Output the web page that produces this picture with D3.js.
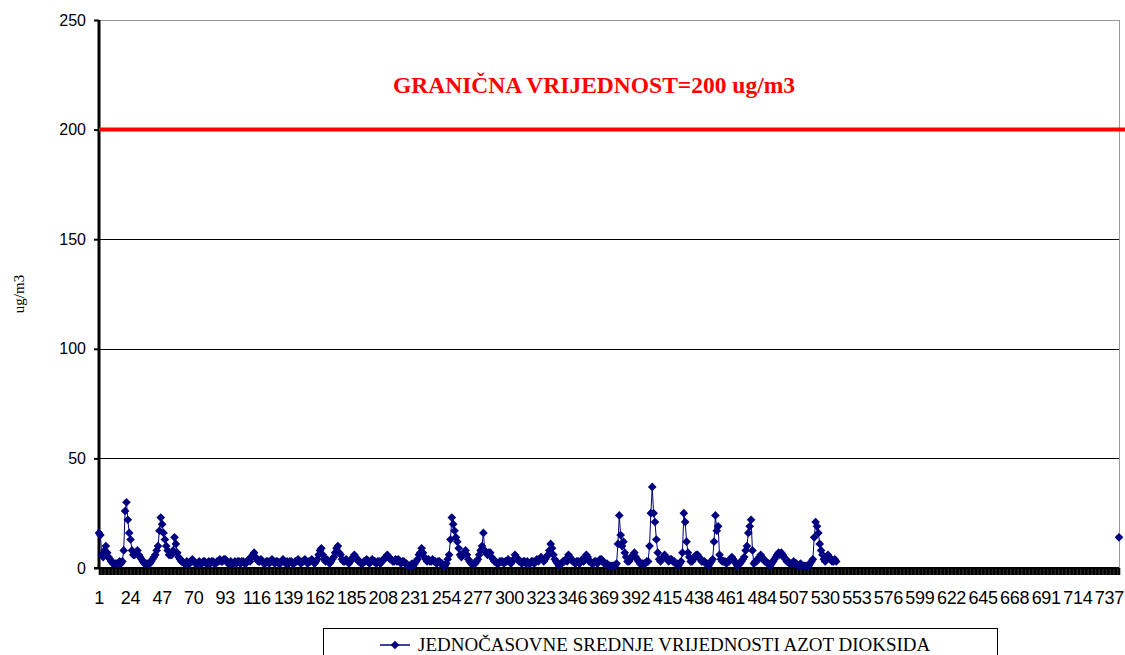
<!DOCTYPE html>
<html>
<head>
<meta charset="utf-8">
<script src="https://cdn.jsdelivr.net/npm/d3@7"></script>
<style>
  body { margin: 0; background: #fff; }
  svg { display: block; }
</style>
</head>
<body>
<div id="chart"></div>
<script>
// satne vrijednosti NO2 (ug/m3), po danima (24 sata)
const day01 = [16,15,6,5,8,10,7,5,4,3,2,2,2,2,2,3,2,3,8,26,30,22,16,13];
const day02 = [8,6,6,7,8,6,5,4,3,2,2,2,2,2,3,4,5,6,8,10,17,23,20,16];
const day03 = [13,10,8,6,6,6,8,14,11,7,5,4,3,3,2,2,3,2,2,3,4,3,2,2];
const day04 = [2,3,2,2,3,3,2,2,3,2,3,3,2,2,3,3,4,3,3,4,4,3,2,2];
const day05 = [3,2,2,3,2,3,3,2,3,3,2,2,3,4,3,5,6,7,5,4,3,3,4,3];
const day06 = [2,2,3,3,2,3,4,3,2,3,3,2,2,3,4,3,2,3,2,3,3,2,2,3];
const day07 = [3,4,3,2,3,3,4,3,2,3,3,4,3,2,3,4,6,8,9,6,4,3,4,3];
const day08 = [2,3,4,5,7,9,10,7,6,4,3,3,4,3,2,3,4,5,6,5,4,3,3,2];
const day09 = [2,3,3,4,3,2,3,4,3,3,2,3,3,2,3,4,4,5,6,5,4,4,3,3];
const day10 = [4,3,4,3,2,3,3,2,2,1,1,1,2,1,2,3,4,6,7,9,7,5,4,3];
const day11 = [4,3,3,4,3,3,2,3,3,2,2,1,1,2,4,6,13,23,20,17,14,12,9,6];
const day12 = [5,6,7,8,6,4,3,2,2,2,2,3,4,6,8,10,16,8,7,6,7,7,5,4];
const day13 = [3,3,2,2,3,3,3,2,3,3,4,3,2,3,4,6,5,4,3,3,2,3,3,2];
const day14 = [3,2,2,3,3,2,3,4,3,4,5,4,3,4,5,6,8,11,9,6,4,3,2,1];
const day15 = [2,2,3,3,4,3,6,5,4,3,3,2,3,3,2,3,4,3,4,6,5,3,3,2];
const day16 = [2,3,3,2,3,4,4,3,2,2,2,1,1,1,1,1,1,2,11,24,15,10,12,7];
const day17 = [5,3,3,4,5,6,7,5,4,3,2,2,2,2,2,3,3,10,25,37,25,21,13,7];
const day18 = [4,3,4,5,6,5,4,3,4,4,3,3,2,2,1,2,3,7,25,21,12,7,5,3];
const day19 = [3,4,5,6,6,5,4,3,3,3,2,2,1,2,3,4,12,24,17,19,6,4,3,3];
const day20 = [3,2,3,3,4,5,4,3,2,1,2,2,3,4,5,8,10,16,19,22,8,2,3,3];
const day21 = [4,5,6,5,4,3,3,2,2,1,2,3,4,5,6,7,6,7,6,5,4,3,3,2];
const day22 = [2,2,3,2,2,1,1,2,1,1,1,1,1,1,2,3,4,14,21,19,16,11,8,6];
const day23 = [4,3,4,6,5,4,3,3,4,3];

// zadnje mjerenje na kraju mjeseca
const lastHour = 744;
const lastHourValue = 14;

const hourCount = 744;
const xTickLabels = [1,24,47,70,93,116,139,162,185,208,231,254,277,300,323,346,369,392,415,438,461,484,507,530,553,576,599,622,645,668,691,714,737];
const yTicks = [0, 50, 100, 150, 200, 250];
const limitValue = 200;
const limitTitle = "GRANIČNA VRIJEDNOST=200 ug/m3";
const seriesName = "JEDNOČASOVNE SREDNJE VRIJEDNOSTI AZOT DIOKSIDA";
const yTitle = "ug/m3";

const measured = [].concat(day01, day02, day03, day04, day05, day06, day07, day08,
    day09, day10, day11, day12, day13, day14, day15, day16, day17, day18, day19,
    day20, day21, day22, day23);

const hours = d3.range(1, hourCount + 1);
const series = hours.map(h => {
    let v = h <= measured.length ? measured[h - 1] : null;
    if (h === lastHour) v = lastHourValue;
    return { h: h, v: v };
});

const dimension = { width: 1125, height: 655 };
const plot = { left: 99, right: 1119, top: 20, bottom: 568 };
const navy = "#000080";

const svg = d3.select("#chart").append("svg")
    .attr("width", dimension.width)
    .attr("height", dimension.height);

const x = d3.scalePoint().domain(hours).range([plot.left, plot.right]);
const y = d3.scaleLinear().domain([0, 250]).range([plot.bottom, plot.top]);

// mreza
svg.append("g")
    .selectAll("line")
    .data(yTicks.filter(t => t > 0 && t !== limitValue))
    .enter().append("line")
    .attr("x1", plot.left).attr("x2", plot.right)
    .attr("y1", d => Math.round(y(d)) + 0.5).attr("y2", d => Math.round(y(d)) + 0.5)
    .attr("stroke", d => d === 250 ? "#9a9a9a" : "#000")
    .attr("stroke-width", 1);

// desni okvir
svg.append("line")
    .attr("x1", plot.right + 0.5).attr("x2", plot.right + 0.5)
    .attr("y1", plot.top).attr("y2", plot.bottom)
    .attr("stroke", "#9a9a9a");

// x osa: gusti podioci za svaki sat
svg.append("g")
    .attr("transform", `translate(0, ${plot.bottom})`)
    .call(d3.axisBottom(x).tickValues(hours).tickSize(7).tickFormat(""))
    .call(g => g.select(".domain").remove())
    .call(g => g.selectAll(".tick line").attr("stroke", "#000").attr("stroke-width", 1.6));

svg.append("line")
    .attr("x1", plot.left - 5).attr("x2", plot.right)
    .attr("y1", plot.bottom).attr("y2", plot.bottom)
    .attr("stroke", "#000").attr("stroke-width", 2);

svg.append("g")
    .selectAll("text")
    .data(xTickLabels)
    .enter().append("text")
    .attr("x", d => x(d))
    .attr("y", 604)
    .attr("text-anchor", "middle")
    .style("font", "18px 'Liberation Sans', Arial, sans-serif")
    .style("letter-spacing", "-0.3px")
    .attr("fill", "#000")
    .text(d => d);

// y osa
svg.append("g")
    .attr("transform", `translate(${plot.left}, 0)`)
    .call(d3.axisLeft(y).tickValues(yTicks).tickSize(5).tickPadding(8))
    .call(g => g.select(".domain").attr("stroke", "#000").attr("stroke-width", 3)
        .attr("d", `M0,${plot.top}V${plot.bottom}`))
    .call(g => g.selectAll(".tick line").attr("stroke", "#000").attr("stroke-width", 2))
    .call(g => g.selectAll(".tick text")
        .style("font", "16px 'Liberation Sans', Arial, sans-serif")
        .attr("fill", "#000"));

svg.append("text")
    .attr("transform", `translate(24, ${(plot.top + plot.bottom) / 2}) rotate(-90)`)
    .attr("text-anchor", "middle")
    .style("font", "15px 'Liberation Serif', 'Times New Roman', serif")
    .text(yTitle);

// granicna vrijednost
svg.append("line")
    .attr("x1", plot.left).attr("x2", dimension.width)
    .attr("y1", y(limitValue)).attr("y2", y(limitValue))
    .attr("stroke", "#ff0000").attr("stroke-width", 4);

svg.append("text")
    .attr("x", 594)
    .attr("y", 93)
    .attr("text-anchor", "middle")
    .attr("fill", "#ff0000")
    .style("font", "bold 23.5px 'Liberation Serif', 'Times New Roman', serif")
    .text(limitTitle);

// serija
const line = d3.line()
    .defined(d => d.v != null)
    .x(d => x(d.h))
    .y(d => y(d.v));

svg.append("path")
    .datum(series)
    .attr("fill", "none")
    .attr("stroke", navy)
    .attr("stroke-width", 1)
    .attr("d", line);

const diamond = d3.symbol().type(d3.symbolDiamond2).size(48);

svg.append("g")
    .selectAll("path")
    .data(series.filter(d => d.v != null))
    .enter().append("path")
    .attr("transform", d => `translate(${x(d.h)}, ${y(d.v)})`)
    .attr("d", diamond)
    .attr("fill", navy);

// legenda (donji dio je odsjecen kao u originalu)
const legend = svg.append("g");
legend.append("rect")
    .attr("x", 323.5).attr("y", 628.5)
    .attr("width", 674).attr("height", 40)
    .attr("fill", "#fff").attr("stroke", "#000").attr("stroke-width", 1);
legend.append("line")
    .attr("x1", 380).attr("x2", 410)
    .attr("y1", 645).attr("y2", 645)
    .attr("stroke", navy).attr("stroke-width", 1.5);
legend.append("path")
    .attr("transform", "translate(395, 645)")
    .attr("d", diamond)
    .attr("fill", navy);
legend.append("text")
    .attr("x", 418)
    .attr("y", 651)
    .style("font", "19px 'Liberation Serif', 'Times New Roman', serif")
    .attr("fill", "#000")
    .text(seriesName);
</script>
</body>
</html>
